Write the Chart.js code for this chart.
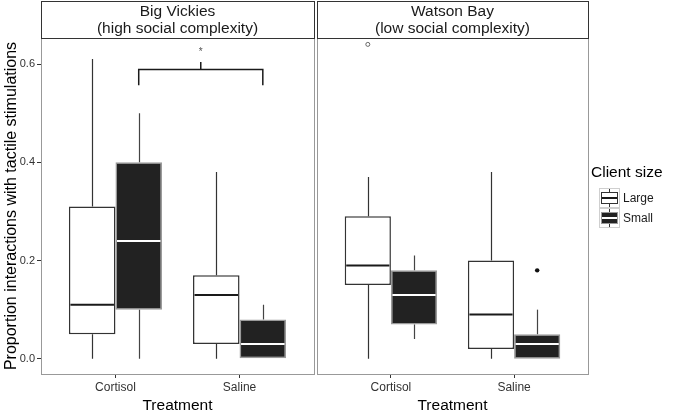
<!DOCTYPE html>
<html lang="en">
<head>
<meta charset="UTF-8" />
<title>Tactile stimulation by client size</title>
<style>
  html, body { margin: 0; padding: 0; background: #fff; }
  body {
    width: 675px; height: 413px;
    overflow: hidden; position: relative;
    font-family: 'Liberation Sans', Arial, sans-serif;
  }
  canvas { position: absolute; top: 0; }
  #leftPanel { left: 0; }
  #rightPanel { left: 312px; }
  .legend { position: absolute; left: 591px; top: 163px; }
  .legend-title { font-size: 15.5px; color: #000; margin-bottom: 7px; }
  .legend-row { display: flex; align-items: center; height: 20px; }
  .key {
    position: relative; width: 21px; height: 20px; margin-left: 8px;
    box-sizing: border-box; border: 1px solid #cfcfcf; background: #fff;
  }
  .key .whisker { position: absolute; left: 9px; top: 0; width: 1px; height: 18px; background: #333; }
  .key .box { position: absolute; left: 1px; top: 3px; width: 17px; height: 12px; box-sizing: border-box; border: 1.5px solid #333; }
  .key .med { position: absolute; left: 2px; top: 8px; width: 15px; height: 2px; }
  .key.large .box { background: #fff; }
  .key.large .med { background: #1a1a1a; }
  .key.small .box { background: #222; border-color: #999; }
  .key.small .med { background: #fff; }
  .legend-label { font-size: 12px; color: #1a1a1a; margin-left: 3px; }
</style>
</head>
<body>
  <canvas id="leftPanel" width="316" height="416"></canvas>
  <canvas id="rightPanel" width="363" height="416"></canvas>

  <div class="legend">
    <div class="legend-title">Client size</div>
    <div class="legend-row"><div class="key large"><div class="whisker"></div><div class="box"></div><div class="med"></div></div><span class="legend-label">Large</span></div>
    <div class="legend-row"><div class="key small"><div class="whisker"></div><div class="box"></div><div class="med"></div></div><span class="legend-label">Small</span></div>
  </div>

  <script src="https://cdn.jsdelivr.net/npm/chart.js"></script>
  <script>
    // data: [lower whisker, Q1, median, Q3, upper whisker]
    const treatments = ['Cortisol', 'Saline'];
    const sizes = ['Large', 'Small'];
    const yTicks = [0, 0.2, 0.4, 0.6];

    const bvTitle = ['Big Vickies', '(high social complexity)'];
    const bvLarge = [[0, 0.05, 0.11, 0.31, 0.61], [0, 0.03, 0.13, 0.17, 0.38]];
    const bvSmall = [[0, 0.10, 0.24, 0.40, 0.50], [0, 0, 0.03, 0.08, 0.11]];

    const wbTitle = ['Watson Bay', '(low social complexity)'];
    const wbLarge = [[0, 0.15, 0.19, 0.29, 0.37], [0, 0.02, 0.09, 0.20, 0.38]];
    const wbSmall = [[0.04, 0.07, 0.13, 0.18, 0.21], [0, 0, 0.03, 0.05, 0.10]];
    // outliers per treatment
    const wbLargeOut = [[0.64], []];
    const wbSmallOut = [[], [0.18]];

    // significance bracket: Cortisol-Small vs Saline-Small at Big Vickies
    const sigPair = [0, 1];
    const sigY = 0.59;
    const sigLabel = '*';

    const yMin = -0.031, yMax = 0.653;
    const dodge = 0.1875;
    const FONT = "'Liberation Sans', Arial, sans-serif";

    function boxData(stats) {
      return stats.map((s, i) => ({ x: i + 1, y: [s[1], s[3]] }));
    }
    function outData(outs, shift) {
      const pts = [];
      outs.forEach((arr, i) => arr.forEach(v => pts.push({ x: i + 1 + shift, y: v })));
      return pts;
    }

    // whiskers, medians, strip header, panel frame, bracket
    const boxPlugin = {
      id: 'boxPlugin',
      afterDatasetsDraw(chart) {
        const ctx = chart.ctx, y = chart.scales.y;
        chart.data.datasets.forEach((ds, di) => {
          if (!ds.stats) return;
          const meta = chart.getDatasetMeta(di);
          meta.data.forEach((el, i) => {
            const s = ds.stats[i];
            const cx = Math.round(el.x) + 0.5, hw = el.width / 2;
            ctx.save();
            ctx.strokeStyle = ds.whiskerColor;
            ctx.lineWidth = 1.2;
            ctx.beginPath();
            ctx.moveTo(cx, y.getPixelForValue(s[4]));
            ctx.lineTo(cx, y.getPixelForValue(s[3]));
            ctx.moveTo(cx, y.getPixelForValue(s[1]));
            ctx.lineTo(cx, y.getPixelForValue(s[0]));
            ctx.stroke();
            ctx.strokeStyle = ds.medianColor;
            ctx.lineWidth = 2;
            ctx.beginPath();
            const my = y.getPixelForValue(s[2]);
            ctx.moveTo(el.x - hw + 1.5, my);
            ctx.lineTo(el.x + hw - 1.5, my);
            ctx.stroke();
            ctx.restore();
          });
        });
      },
      afterDraw(chart, args, opts) {
        const ctx = chart.ctx, a = chart.chartArea;
        ctx.save();
        // panel frame
        ctx.strokeStyle = '#999';
        ctx.lineWidth = 1;
        ctx.strokeRect(Math.round(a.left) + 0.5, Math.round(a.top) + 0.5,
                       Math.round(a.right - a.left), Math.round(a.bottom - a.top));
        // strip
        ctx.fillStyle = '#fff';
        ctx.fillRect(a.left, 1.5, a.right - a.left, a.top - 1.5);
        ctx.strokeStyle = '#333';
        ctx.strokeRect(Math.round(a.left) + 0.5, 1.5, Math.round(a.right - a.left), Math.round(a.top) - 1);
        ctx.fillStyle = '#1a1a1a';
        ctx.font = '15.5px ' + FONT;
        ctx.textAlign = 'center';
        ctx.textBaseline = 'middle';
        const cx = (a.left + a.right) / 2;
        ctx.fillText(opts.title[0], cx, 12);
        ctx.fillText(opts.title[1], cx, 29);
        // significance bracket
        if (opts.bracket) {
          const x = chart.scales.x, y = chart.scales.y;
          const x1 = x.getPixelForValue(sigPair[0] + 1 + dodge);
          const x2 = x.getPixelForValue(sigPair[1] + 1 + dodge);
          const yb = Math.round(y.getPixelForValue(sigY)) + 0.5;
          const drop = y.getPixelForValue(sigY - 0.033);
          const up = y.getPixelForValue(sigY + 0.014);
          ctx.strokeStyle = '#1a1a1a';
          ctx.lineWidth = 1.5;
          ctx.beginPath();
          ctx.moveTo(x1, drop); ctx.lineTo(x1, yb); ctx.lineTo(x2, yb); ctx.lineTo(x2, drop);
          ctx.moveTo((x1 + x2) / 2, yb); ctx.lineTo((x1 + x2) / 2, up);
          ctx.stroke();
          ctx.fillStyle = '#555';
          ctx.font = '10px ' + FONT;
          ctx.fillText(sigLabel, (x1 + x2) / 2, y.getPixelForValue(sigY + 0.033));
        }
        ctx.restore();
      }
    };

    function facet(canvasId, title, large, small, largeOut, smallOut, showY, bracket, padding) {
      const datasets = [
        { type: 'bar', label: sizes[0], data: boxData(large), stats: large,
          backgroundColor: '#fff', borderColor: '#333', borderWidth: 1.5, borderSkipped: false,
          categoryPercentage: 0.75, barPercentage: 1, whiskerColor: '#333', medianColor: '#1a1a1a' },
        { type: 'bar', label: sizes[1], data: boxData(small), stats: small,
          backgroundColor: '#222', borderColor: '#9a9a9a', borderWidth: 1.5, borderSkipped: false,
          categoryPercentage: 0.75, barPercentage: 1, whiskerColor: '#444', medianColor: '#fff' }
      ];
      if (largeOut) datasets.push({ type: 'scatter', data: outData(largeOut, -dodge),
        pointRadius: 2, pointBackgroundColor: '#fff', pointBorderColor: '#666', pointBorderWidth: 1 });
      if (smallOut) datasets.push({ type: 'scatter', data: outData(smallOut, dodge),
        pointRadius: 2.2, pointBackgroundColor: '#111', pointBorderColor: '#111', pointBorderWidth: 0 });

      return new Chart(document.getElementById(canvasId), {
        type: 'bar',
        data: { datasets },
        options: {
          responsive: false,
          animation: false,
          layout: { padding },
          plugins: {
            legend: { display: false },
            tooltip: { enabled: false },
            boxPlugin: { title, bracket }
          },
          scales: {
            x: {
              type: 'linear', min: 0.4, max: 2.6, offset: false,
              afterBuildTicks: s => { s.ticks = treatments.map((t, i) => ({ value: i + 1 })); },
              afterFit: s => { s.height = 42; },
              ticks: { callback: (v, i) => treatments[i], color: '#333',
                       font: { size: 12, family: FONT }, padding: 2, maxRotation: 0 },
              grid: { display: true, offset: false, drawOnChartArea: false, drawTicks: true, tickLength: 4, color: '#333' },
              border: { display: false },
              title: { display: true, text: 'Treatment', color: '#000',
                       font: { size: 15.5, family: FONT, lineHeight: 0.9 }, padding: { top: 0, bottom: 3 } }
            },
            y: {
              display: showY,
              min: yMin, max: yMax,
              afterBuildTicks: s => { s.ticks = yTicks.map(v => ({ value: v })); },
              afterFit: s => { s.width = showY ? 41 : 0; },
              ticks: { callback: v => v.toFixed(1), color: '#333',
                       font: { size: 11, family: FONT }, padding: 2 },
              grid: { display: true, drawOnChartArea: false, drawTicks: true, tickLength: 4, color: '#333' },
              border: { display: false },
              title: { display: true, text: 'Proportion interactions with tactile stimulations', color: '#000',
                       font: { size: 16, family: FONT, lineHeight: 1.2 }, padding: { top: 2, bottom: 0 } }
            }
          }
        },
        plugins: [boxPlugin]
      });
    }

    facet('leftPanel', bvTitle, bvLarge, bvSmall, null, null, true, true,
          { top: 38, left: 0, right: 2, bottom: 0 });
    facet('rightPanel', wbTitle, wbLarge, wbSmall, wbLargeOut, wbSmallOut, false, false,
          { top: 38, left: 2, right: 87, bottom: 0 });
  </script>
</body>
</html>
